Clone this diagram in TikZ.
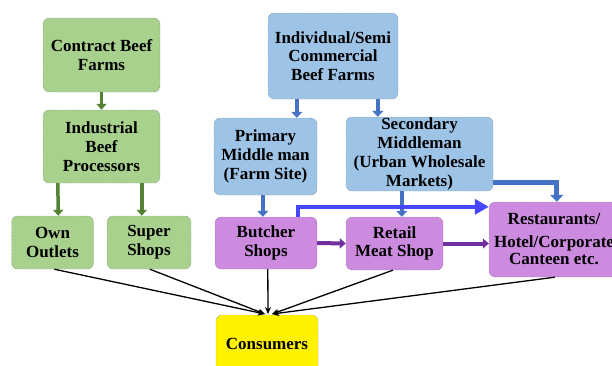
\documentclass[tikz,border=0pt]{standalone}
\usepackage{fontspec}
\setmainfont{Liberation Serif}
\usetikzlibrary{arrows.meta,calc}
\definecolor{farmgreen}{HTML}{A9D18E}
\definecolor{arrowgreen}{HTML}{548235}
\definecolor{midblue}{HTML}{9DC3E6}
\definecolor{arrowblue}{HTML}{4472C4}
\definecolor{brightblue}{HTML}{4646FF}
\definecolor{shoppurple}{HTML}{CC8BDE}
\definecolor{arrowpurple}{HTML}{7030A0}
\begin{document}
\begin{tikzpicture}[x=1pt,y=-1pt,
  box/.style={draw=black!65, densely dotted, thin, rounded corners=6pt, align=center,
    font=\bfseries\fontsize{17}{18.8}\selectfont, inner sep=0pt},
  greenbox/.style={box, fill=farmgreen},
  bluebox/.style={box, fill=midblue},
  purplebox/.style={box, fill=shoppurple},
  greenarrow/.style={draw=arrowgreen, line width=3.5pt, -{Triangle[length=6pt,width=10pt]}},
  bluearrow/.style={draw=arrowblue, line width=4pt, -{Triangle[length=6pt,width=11pt]}},
  widearrow/.style={draw=arrowblue, line width=5pt, -{Triangle[length=7pt,width=13pt]}},
  brightarrow/.style={draw=brightblue, line width=4pt, -{Triangle[length=14pt,width=15pt]}},
  purplearrow/.style={draw=arrowpurple, line width=4pt, -{Triangle[length=6pt,width=10pt]}},
  flow/.style={draw=black, line width=1.3pt, -{Stealth[length=7pt,width=6pt]}}
]
\useasboundingbox (0,0) rectangle (612,365);

% contract chain
\node[greenbox, minimum width=117pt, minimum height=74pt] (contract) at (101.5,55) {Contract Beef\\Farms};
\node[greenbox, minimum width=117pt, minimum height=73pt] (industrial) at (101.5,146.5) {Industrial\\Beef\\Processors};
\node[greenbox, minimum width=82pt, minimum height=53pt] (own) at (52.5,242.5) {Own\\Outlets};
\node[greenbox, minimum width=84pt, minimum height=53pt] (super) at (149,242.5) {Super\\Shops};

% independent chain
\node[bluebox, minimum width=130pt, minimum height=86pt] (indiv) at (333,56) {Individual/Semi\\Commercial\\Beef Farms};
\node[bluebox, minimum width=103pt, minimum height=77pt] (primary) at (265.5,156.5) {Primary\\Middle man\\(Farm Site)};
\node[bluebox, minimum width=147pt, minimum height=74pt] (secondary) at (419.5,154) {Secondary\\Middleman\\(Urban Wholesale\\Markets)};

% retail outlets
\node[purplebox, minimum width=102pt, minimum height=52pt] (butcher) at (266,243) {Butcher\\Shops};
\node[purplebox, minimum width=97pt, minimum height=53pt] (retail) at (394.5,243.5) {Retail\\Meat Shop};
\node[purplebox, minimum width=130pt, minimum height=75pt,
  font=\bfseries\fontsize{17}{17}\selectfont] (rest) at (554,239.5) {Restaurants/\\[6pt]Hotel/Corporate\\Canteen etc.};

% end point
\node[box, fill=yellow, minimum width=102pt, minimum height=58pt] (consumers) at (267,344) {Consumers};

% supply arrows
\draw[greenarrow] (contract.south) -- (industrial.north);
\draw[greenarrow] ($(industrial.south west)+(15,0)$) -- ($(own.north west)+(47,0)$);
\draw[greenarrow] ($(industrial.south west)+(99,0)$) -- ($(super.north west)+(35,0)$);

\draw[bluearrow] ($(indiv.south west)+(29,0)$) -- ($(primary.north west)+(83,0)$);
\draw[bluearrow] ($(indiv.south west)+(110,0)$) -- ($(secondary.north west)+(32,0)$);
\draw[bluearrow] ($(primary.south west)+(49,0)$) -- ($(butcher.north west)+(48,0)$);
\draw[bluearrow] ($(secondary.south west)+(56,0)$) -- ($(retail.north west)+(56,0)$);
\draw[widearrow] ($(secondary.south east)+(0,-9)$) -| ($(rest.north west)+(68,0)$);
\draw[brightarrow] ($(butcher.north west)+(83,0)$) |- ($(rest.north west)+(0,5)$);

\draw[purplearrow] (butcher.east) -- (retail.west);
\draw[purplearrow] (retail.east) -- (rest.west |- retail.east);

% flows to consumers
\coordinate (inl) at (265,314);
\coordinate (inm) at (268,314);
\coordinate (inr) at (272,314);
\draw[flow] ($(own.south west)+(43,0)$) -- (inl);
\draw[flow] ($(super.south west)+(43,0)$) -- (inl);
\draw[flow] ($(butcher.south west)+(53,0)$) -- (inm);
\draw[flow] ($(retail.south west)+(47,0)$) -- (inr);
\draw[flow] ($(rest.south west)+(66,0)$) -- (inr);
\end{tikzpicture}
\end{document}
